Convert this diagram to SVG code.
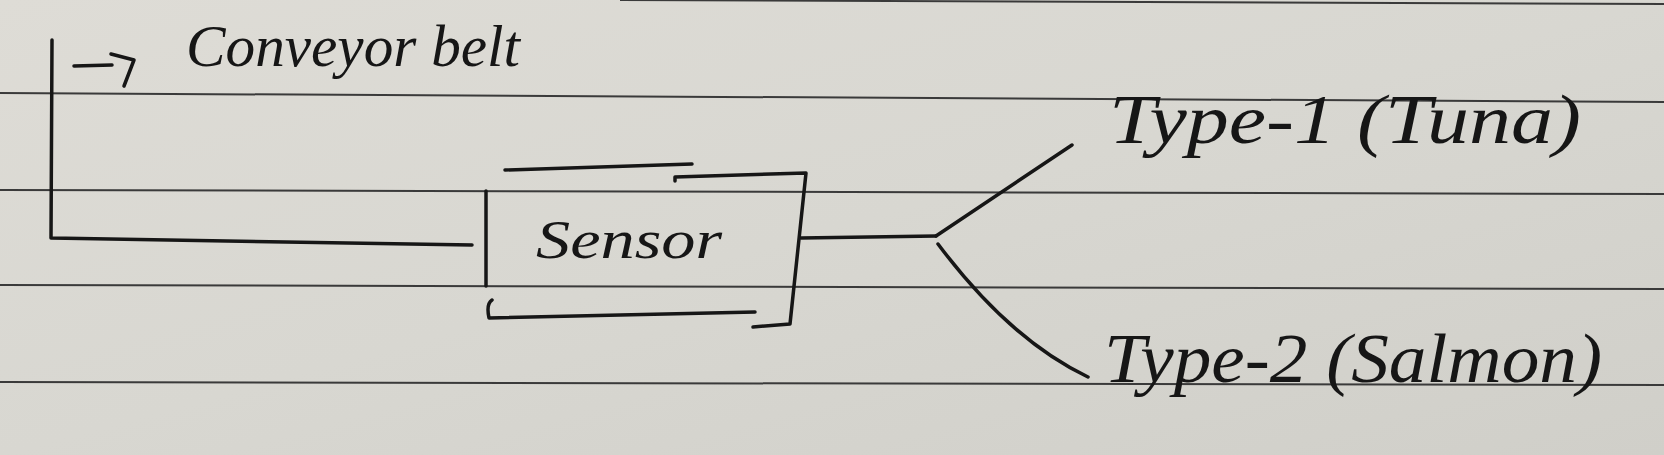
<svg xmlns="http://www.w3.org/2000/svg" width="1664" height="455" viewBox="0 0 1664 455">
  <defs>
    <linearGradient id="paper" x1="0" y1="0" x2="1" y2="1">
      <stop offset="0" stop-color="#dedcd6"/>
      <stop offset="0.5" stop-color="#d8d7d1"/>
      <stop offset="1" stop-color="#d0cfc9"/>
    </linearGradient>
  </defs>
  <style>
    .rule { stroke: #3a3a3a; stroke-width: 2; fill: none; }
    .ink { stroke: #161616; stroke-width: 3.5; fill: none; stroke-linecap: round; stroke-linejoin: round; }
    .hand { font-family: "Liberation Serif", "DejaVu Serif", serif; font-style: italic; fill: #161616; }
  </style>
  <rect width="1664" height="455" fill="url(#paper)"/>
  <g id="ruled-lines">
    <line class="rule" x1="620" y1="0" x2="1664" y2="4"/>
    <line class="rule" x1="0" y1="93" x2="1664" y2="102"/>
    <line class="rule" x1="0" y1="190" x2="1664" y2="194"/>
    <line class="rule" x1="0" y1="285" x2="1664" y2="289"/>
    <line class="rule" x1="0" y1="382" x2="1664" y2="385"/>
  </g>
  <g id="connectors">
    <path class="ink" d="M52,40 L51,238 L472,245"/>
    <path class="ink" d="M74,66 L112,65 M111,54 L134,60 L124,86"/>
    <path class="ink" d="M801,238 L936,236"/>
    <path class="ink" d="M936,236 L1072,145"/>
    <path class="ink" d="M938,244 Q1010,340 1088,377"/>
  </g>
  <g id="conveyor-belt">
    <text class="hand" x="186" y="66" font-size="60" textLength="334" lengthAdjust="spacingAndGlyphs">Conveyor belt</text>
  </g>
  <g id="sensor">
    <path class="ink" d="M486,191 L486,286"/>
    <path class="ink" d="M505,170 L692,164"/>
    <path class="ink" d="M675,181 L675,177 L806,173 L790,324 L753,327"/>
    <path class="ink" d="M492,300 Q486,304 489,318 L755,312"/>
    <text class="hand" x="536" y="258" font-size="54" textLength="186" lengthAdjust="spacingAndGlyphs">Sensor</text>
  </g>
  <g id="type-1">
    <text class="hand" x="1109" y="143" font-size="70" textLength="472" lengthAdjust="spacingAndGlyphs">Type-1 (Tuna)</text>
  </g>
  <g id="type-2">
    <text class="hand" x="1104" y="382" font-size="70" textLength="498" lengthAdjust="spacingAndGlyphs">Type-2 (Salmon)</text>
  </g>
</svg>
